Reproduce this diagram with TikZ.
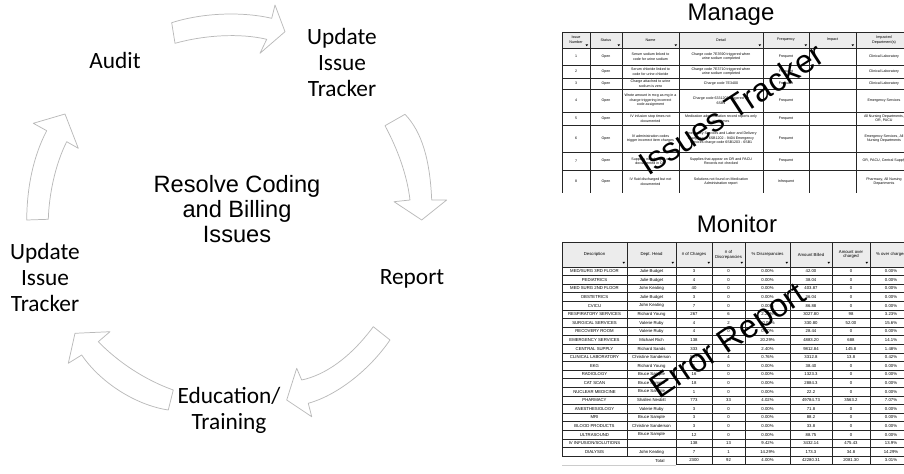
\documentclass[tikz,border=0pt]{standalone}
\usepackage{fontspec}
\setmainfont{Liberation Sans}
\newfontfamily\calfont{Carlito}
\begin{document}
\begin{tikzpicture}[x=0.75pt,y=-0.75pt,
  blk/.style={draw=gray!55, fill=white, line width=0.55pt, line join=round},
  cyc/.style={font=\calfont\fontsize{17.5}{19.5}\selectfont, align=center, inner sep=0pt},
  ttl/.style={font=\fontsize{18}{20}\selectfont, inner sep=0pt, anchor=base},
  tline/.style={line width=0.5pt, draw=black!85},
  mc/.style={font=\fontsize{2.7}{3.4}\selectfont, align=center, inner sep=0pt},
  mh/.style={font=\fontsize{2.8}{3.4}\selectfont, align=center, inner sep=0pt},
  nc/.style={font=\fontsize{3.2}{3.6}\selectfont, inner sep=0pt, align=center},
  wm/.style={font=\fontsize{24.5}{26}\selectfont, inner sep=0pt, anchor=base west},
]
\useasboundingbox (0,0) rectangle (904,474);
\clip (0,0) rectangle (904,474);

% ---------------- cycle arrows ----------------
\draw[blk] (171.7,22.7) .. controls (205,12) and (245,12) .. (271.7,18.3) -- (275,5) -- (285,31.7) -- (260,53.3) -- (266.7,39.3) .. controls (240,33) and (205,35) .. (175,43.3) -- cycle;
\draw[blk] (385,125.7) .. controls (398,150) and (407,175) .. (410,200) -- (394,201.7) -- (421.7,220) -- (446.7,200) -- (431.7,200) .. controls (430,160) and (422,132) .. (405,114.3) -- cycle;
\draw[blk] (373.3,326.7) .. controls (350,358) and (325,375) .. (301.7,380) -- (296.7,368.3) -- (286.7,400) -- (311.7,416.7) -- (308.3,403.3) .. controls (335,396) and (368,372) .. (390,340) -- cycle;
\draw[blk] (173.3,390) .. controls (145,380) and (118,362) .. (98.3,341.7) -- (110,331.7) -- (75,333.3) -- (68.3,363.3) -- (81.7,355) .. controls (100,382) and (135,405) .. (168.3,410) -- cycle;
\draw[blk] (26.7,220) .. controls (27,185) and (34,155) .. (46.7,130.7) -- (33.3,123.3) -- (65,114) -- (78.3,148.3) -- (66.7,141.7) .. controls (55,165) and (49,195) .. (48.3,219.3) -- cycle;

% ---------------- cycle labels ----------------
\node[cyc] (audit) at (115,60.5) {Audit};
\node[cyc] (upd1) at (342,62) {Update\\Issue\\Tracker};
\node[font=\fontsize{17.7}{19}\selectfont, align=center, inner sep=0pt] (resolve) at (237,209) {Resolve Coding\\and Billing\\Issues};
\node[cyc] (upd2) at (45,277) {Update\\Issue\\Tracker};
\node[cyc] (report) at (412,278.5) {Report};
\node[cyc] (edu) at (229,410) {Education/\\Training};

% ---------------- Manage table ----------------
\node[ttl] (manage) at (731,21) {Manage};
\fill[gray!15] (562,32) rectangle (912,48);
\foreach \yy in {32,48,65,78,89,112,125,152,170}
  \draw[tline] (562,\yy) -- (912,\yy);
\foreach \xx in {562,590,622,679,763,809,856}
  \draw[tline] (\xx,32) -- (\xx,193);
\foreach \xx in {590,622,679,763,809,856}
  \fill (\xx-4.5,44.5) -- (\xx-2,44.5) -- (\xx-3.25,46.2) -- cycle;
\node[mh] (mh1) at (576,40) {Issue\\Number};
\node[mh] (mh2) at (606,40) {Status};
\node[mh] (mh3) at (650.5,40) {Name};
\node[mh] (mh4) at (721,40) {Detail};
\node[mh] (mh5) at (786,40) {Frequency};
\node[mh] (mh6) at (832.5,40) {Impact};
\node[mh] (mh7) at (884,40) {Impacted\\Department(s)};
\foreach \mr/\mya/\myb/\mnm/\mdt/\mfq/\mdep in {
 1/48/65/{Serum sodium linked to\\code for urine sodium}/{Charge code 7E3590 triggered when\\urine sodium completed}/Frequent/{Clinical Laboratory},
 2/65/78/{Serum chloride linked to\\code for urine chloride}/{Charge code 7E3710 triggered when\\urine sodium completed}/Frequent/{Clinical Laboratory},
 3/78/89/{Charge attached to urine\\sodium is zero}/{Charge code 7E3400}/Frequent/{Clinical Laboratory},
 4/89/112/{Wrote amount in mcg as mg in a\\charge triggering incorrect\\code assignment}/{Charge code 6331203 triggered for\\6SB1}/Frequent/{Emergency Services},
 5/112/125/{IV infusion stop times not\\documented}/{Medication administration record reports only\\start times}/Frequent/{All Nursing Departments,\\OR, PACU},
 6/125/152/{IV administration codes\\trigger incorrect item charges}/{Emergency Services and Labor and Delivery\\charge code 6SB1202 - 9404 Emergency\\Services charge code 6SB1203 - 6SB1}/Frequent/{Emergency Services, All\\Nursing Departments},
 7/152/170/{Supplies not charged or\\documented in OR}/{Supplies that appear on OR and PACU\\Records not checked}/Frequent/{OR, PACU, Central Supply},
 8/170/193/{IV fluid discharged but not\\documented}/{Solutions not found on Medication\\Administration report}/Infrequent/{Pharmacy, All Nursing\\Departments}}
{
  \node[mc] (mn\mr) at (576,{(\mya+\myb)/2}) {\mr};
  \node[mc] (ms\mr) at (606,{(\mya+\myb)/2}) {Open};
  \node[mc] (mm\mr) at (650.5,{(\mya+\myb)/2}) {\mnm};
  \node[mc] (md\mr) at (721,{(\mya+\myb)/2}) {\mdt};
  \node[mc] (mf\mr) at (786,{(\mya+\myb)/2}) {\mfq};
  \node[mc] (mp\mr) at (884,{(\mya+\myb)/2}) {\mdep};
}

% ---------------- Monitor table ----------------
\node[ttl] (monitor) at (737,233) {Monitor};
\fill[gray!15] (562,242) rectangle (912,267);
\draw[tline] (562,242) -- (912,242);
\foreach \k in {0,...,22}
  \draw[tline] (562,{267+\k*8.6}) -- (912,{267+\k*8.6});
\draw[tline] (676,464.8) -- (912,464.8);
\draw[gray!40, line width=0.4pt] (562,464.8) -- (676,464.8);
\foreach \xx in {562,627}
  \draw[tline] (\xx,242) -- (\xx,456.2);
\foreach \xx in {676,712,745,790,832,870}
  \draw[tline] (\xx,242) -- (\xx,464.8);
\foreach \xx in {627,676,712,745,790,832,870}
  \fill (\xx-4.5,262) -- (\xx-2,262) -- (\xx-3.25,263.7) -- cycle;
\node[nc] (th1) at (594.5,254.5) {Description};
\node[nc] (th2) at (651.5,254.5) {Dept. Head};
\node[nc] (th3) at (694,254.5) {\# of Charges};
\node[nc] (th4) at (728.5,254.5) {\# of\\Discrepancies};
\node[nc] (th5) at (767.5,254.5) {\% Discrepancies};
\node[nc] (th6) at (811,254.5) {Amount Billed};
\node[nc] (th7) at (851,254.5) {Amount over\\charged};
\node[nc] (th8) at (891,254.5) {\% over charged};
\foreach \ri/\vd/\vh/\va/\vb/\vc/\ve/\vf/\vg in {
 1/{MED/SURG 3RD FLOOR}/Julie Budget/3/0/0.00\%/42.00/0/0.00\%,
 2/PEDIATRICS/Julie Budget/4/0/0.00\%/38.04/0/0.00\%,
 3/MED SURG 2ND FLOOR/John Keating/40/0/0.00\%/403.87/0/0.00\%,
 4/OBSTETRICS/Julie Budget/3/0/0.00\%/36.04/0/0.00\%,
 5/CVICU/John Keating/7/0/0.00\%/86.88/0/0.00\%,
 6/RESPIRATORY SERVICES/Richard Young/267/6/2.25\%/3027.80/98/3.23\%,
 7/SURGICAL SERVICES/Valerie Ruby/4/2/50.00\%/330.80/52.00/15.6\%,
 8/RECOVERY ROOM/Valerie Ruby/4/0/0.00\%/28.44/0/0.00\%,
 9/EMERGENCY SERVICES/Michael Rich/138/28/20.29\%/4883.20/688/14.1\%,
 10/CENTRAL SUPPLY/Richard Sands/333/8/2.40\%/9812.84/145.8/1.48\%,
 11/CLINICAL LABORATORY/Christine Sanderson/527/4/0.76\%/3312.8/13.8/0.42\%,
 12/EKG/Richard Young/1/0/0.00\%/38.40/0/0.00\%,
 13/RADIOLOGY/Bruce Sample/16/0/0.00\%/1323.3/0/0.00\%,
 14/CAT SCAN/Bruce Sample/18/0/0.00\%/2884.3/0/0.00\%,
 15/NUCLEAR MEDICINE/Bruce Sample/1/0/0.00\%/22.2/0/0.00\%,
 16/PHARMACY/Shallen Nesbitt/773/33/4.02\%/49784.73/3563.2/7.07\%,
 17/ANESTHESIOLOGY/Valerie Ruby/3/0/0.00\%/71.8/0/0.00\%,
 18/MRI/Bruce Sample/3/0/0.00\%/88.2/0/0.00\%,
 19/BLOOD PRODUCTS/Christine Sanderson/3/0/0.00\%/33.8/0/0.00\%,
 20/ULTRASOUND/Bruce Sample/12/0/0.00\%/88.75/0/0.00\%,
 21/{IV INFUSION/SOLUTIONS}/{}/138/13/9.42\%/3432.14/475.43/13.9\%,
 22/DIALYSIS/John Keating/7/1/14.29\%/173.3/34.8/14.29\%}
{
  \node[nc] (d\ri) at (594.5,{267+(\ri-0.5)*8.6}) {\vd};
  \node[nc] (h\ri) at (651.5,{267+(\ri-0.5)*8.6}) {\vh};
  \node[nc] (a\ri) at (694,{267+(\ri-0.5)*8.6}) {\va};
  \node[nc] (b\ri) at (728.5,{267+(\ri-0.5)*8.6}) {\vb};
  \node[nc] (c\ri) at (767.5,{267+(\ri-0.5)*8.6}) {\vc};
  \node[nc] (e\ri) at (811,{267+(\ri-0.5)*8.6}) {\ve};
  \node[nc] (f\ri) at (851,{267+(\ri-0.5)*8.6}) {\vf};
  \node[nc] (g\ri) at (891,{267+(\ri-0.5)*8.6}) {\vg};
}
\node[nc] (tot) at (660,460.5) {Total};
\node[nc] (ta) at (694,460.5) {2300};
\node[nc] (tb) at (728.5,460.5) {92};
\node[nc] (tc) at (767.5,460.5) {4.00\%};
\node[nc] (te) at (811,460.5) {42280.31};
\node[nc] (tf) at (851,460.5) {2081.30};
\node[nc] (tg) at (891,460.5) {3.01\%};

% ---------------- overlay labels ----------------
\node[wm, rotate=33] (itrk) at (648,177) {Issues Tracker};
\node[wm, rotate=34] (erep) at (659,400) {Error Report};
\end{tikzpicture}
\end{document}
